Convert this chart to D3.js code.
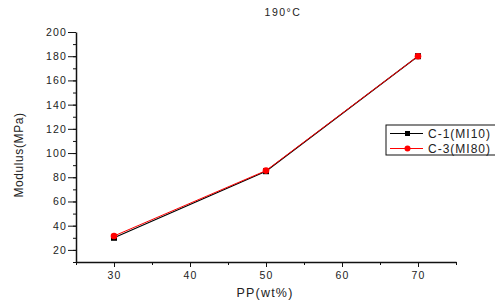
<!DOCTYPE html>
<html lang="en">
<head>
<meta charset="UTF-8">
<title>Modulus vs PP</title>
<style>
  body { margin: 0; background: #fff; }
  text { font-family: "Liberation Sans", Arial, sans-serif; fill: #222; }
</style>
<script src="https://d3js.org/d3.v7.min.js"></script>
</head>
<body>
<script>
const ppValues = [30, 50, 70];
const c1Values = [30, 85, 180];
const c3Values = [31.5, 85.5, 180];
const seriesNames = ["C-1(MI10)", "C-3(MI80)"];
const xTicks = [30, 40, 50, 60, 70];
const yTicks = [20, 40, 60, 80, 100, 120, 140, 160, 180, 200];

const width = 495, height = 302;
const margin = {left: 76, right: 39, top: 32, bottom: 40};

const svg = d3.select("body").append("svg")
  .attr("width", width).attr("height", height);

const x = d3.scaleLinear().domain([25, 75]).range([margin.left, width - margin.right]);
const y = d3.scaleLinear().domain([10, 200]).range([height - margin.bottom, margin.top]);

// minor ticks
const g = svg.append("g");
g.append("g")
  .attr("transform", `translate(0,${height - margin.bottom})`)
  .call(d3.axisBottom(x).tickValues(d3.range(25, 76, 5)).tickSize(3).tickFormat(""))
  .call(s => s.select(".domain").remove());
g.append("g")
  .attr("transform", `translate(${margin.left},0)`)
  .call(d3.axisLeft(y).tickValues(d3.range(10, 201, 10)).tickSize(3).tickFormat(""))
  .call(s => s.select(".domain").remove());

// major axes
svg.append("g")
  .attr("transform", `translate(0,${height - margin.bottom})`)
  .call(d3.axisBottom(x).tickValues(xTicks).tickSize(5).tickSizeOuter(0).tickPadding(5));
svg.append("g")
  .attr("transform", `translate(${margin.left},0)`)
  .call(d3.axisLeft(y).tickValues(yTicks).tickSize(8).tickSizeOuter(0).tickPadding(1));

svg.selectAll(".domain").attr("stroke", "#111").attr("stroke-width", 1.5);
svg.selectAll(".tick line").attr("stroke", "#111");
svg.selectAll(".tick text").style("font-size", "10.5px").style("letter-spacing", "1.2px").attr("fill", "#222");

// axis titles
svg.append("text").attr("x", 265).attr("y", 297)
  .attr("text-anchor", "middle").style("font-size", "12.5px").style("letter-spacing", "1.2px").text("PP(wt%)");
svg.append("text").attr("transform", "translate(23,155) rotate(-90)")
  .attr("text-anchor", "middle").style("font-size", "12px").style("letter-spacing", "0.6px").text("Modulus(MPa)");
svg.append("text").attr("x", 283).attr("y", 16)
  .attr("text-anchor", "middle").style("font-size", "10.5px").style("letter-spacing", "1.5px").text("190°C");

const line = d3.line().x((d, i) => x(ppValues[i])).y(d => y(d));

// C-1
svg.append("path").datum(c1Values)
  .attr("fill", "none").attr("stroke", "#000").attr("stroke-width", 1.2).attr("d", line);
svg.selectAll(".sq").data(c1Values).enter().append("rect")
  .attr("x", (d, i) => x(ppValues[i]) - 3).attr("y", d => y(d) - 3)
  .attr("width", 6).attr("height", 6).attr("fill", "#000");

// C-3
svg.append("path").datum(c3Values)
  .attr("fill", "none").attr("stroke", "#f00").attr("stroke-width", 1).attr("d", line);
svg.selectAll(".ci").data(c3Values).enter().append("circle")
  .attr("cx", (d, i) => x(ppValues[i])).attr("cy", d => y(d))
  .attr("r", 3.3).attr("fill", "#f00");

// legend
const lg = svg.append("g");
lg.append("rect").attr("x", 386).attr("y", 125).attr("width", 112).attr("height", 30)
  .attr("fill", "#fff").attr("stroke", "#111").attr("stroke-width", 1);
const colors = ["#000", "#f00"];
seriesNames.forEach((name, i) => {
  const yy = 133.5 + i * 15;
  lg.append("line").attr("x1", 390).attr("x2", 423).attr("y1", yy).attr("y2", yy)
    .attr("stroke", colors[i]).attr("stroke-width", 1);
  if (i === 0) {
    lg.append("rect").attr("x", 405).attr("y", yy - 2.5).attr("width", 5).attr("height", 5).attr("fill", "#000");
  } else {
    lg.append("circle").attr("cx", 407.5).attr("cy", yy).attr("r", 3).attr("fill", "#f00");
  }
  lg.append("text").attr("x", 428).attr("y", yy + 4.5).style("font-size", "12px").style("letter-spacing", "1px").text(name);
});
</script>
</body>
</html>
